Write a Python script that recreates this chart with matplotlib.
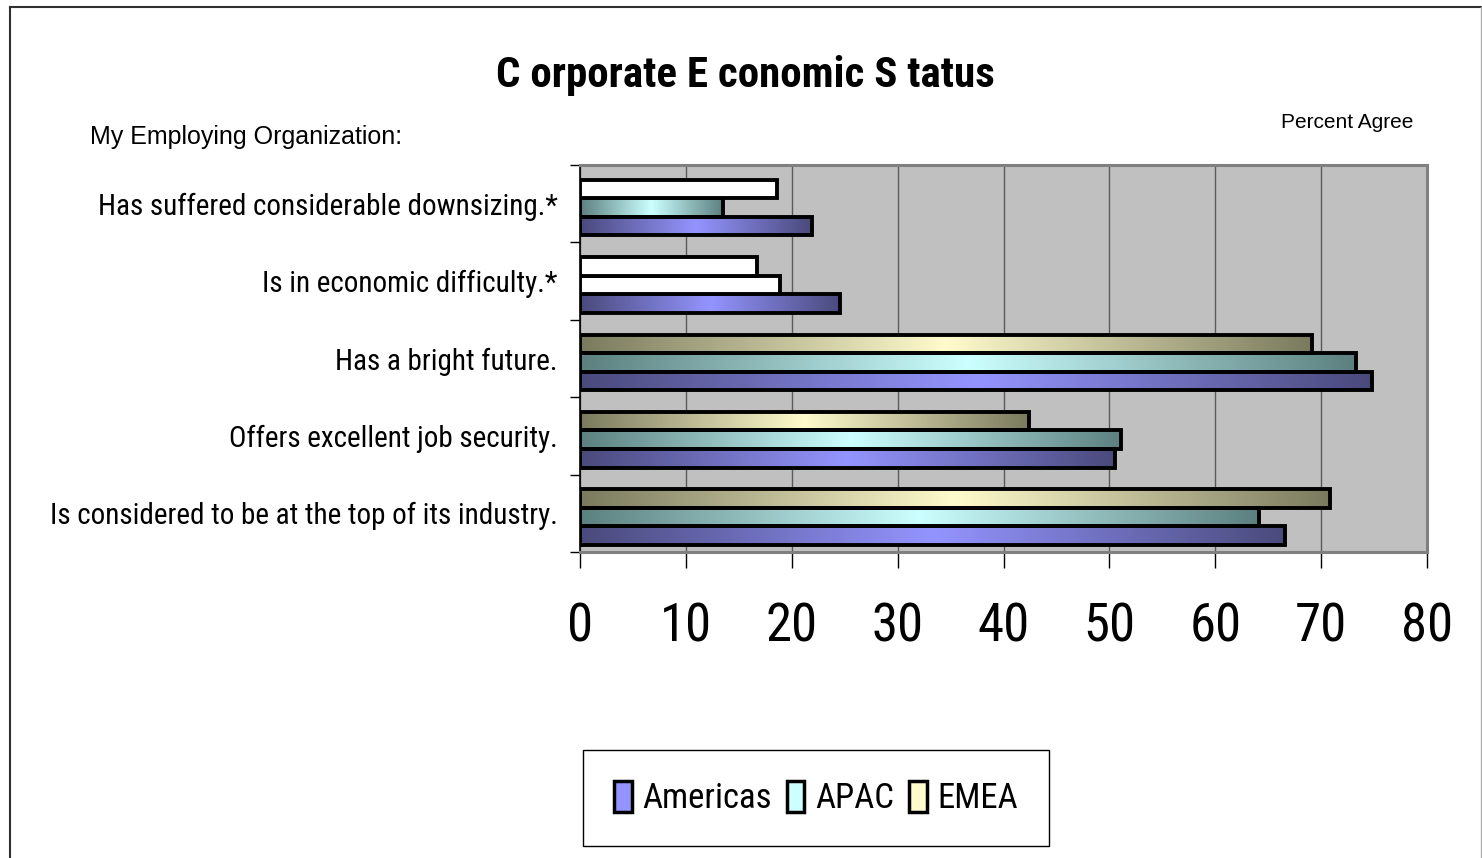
import matplotlib
matplotlib.use("Agg")
import numpy as np
import matplotlib.pyplot as plt
from matplotlib.colors import LinearSegmentedColormap
from matplotlib.patches import Rectangle
from matplotlib.lines import Line2D
from matplotlib.ticker import MultipleLocator

# survey results, percent agree
categories = [
    "Has suffered considerable downsizing.*",
    "Is in economic difficulty.*",
    "Has a bright future.",
    "Offers excellent job security.",
    "Is considered to be at the top of its industry.",
]
series_names = ["Americas", "APAC", "EMEA"]
americas = [21.9, 24.6, 74.8, 50.5, 66.6]
apac = [13.5, 18.9, 73.3, 51.1, 64.1]
emea = [18.6, 16.7, 69.1, 42.4, 70.8]
x_ticks = [0, 10, 20, 30, 40, 50, 60, 70, 80]

# (dark end, light middle) of each series gradient
shades = {
    "Americas": ("#4a4a7c", "#9494ff"),
    "APAC": ("#5c8080", "#ccffff"),
    "EMEA": ("#7a7a5e", "#fffbcc"),
}
# bars that come out plain white in the original workbook
plain_white = {("EMEA", 0), ("EMEA", 1), ("APAC", 1)}

narrow = ["Arial Narrow", "Liberation Sans Narrow", "Roboto Condensed",
          "IBM Plex Sans Condensed", "Liberation Sans"]
regular = ["Liberation Sans", "DejaVu Sans"]

W, H = 1482, 858
fig = plt.figure(figsize=(W / 100, H / 100), dpi=100)
fig.patch.set_facecolor("white")

ax = fig.add_axes([580 / W, 1 - 552 / H, (1427 - 580) / W, (552 - 165) / H])
ax.set_facecolor("#c0c0c0")

n = len(categories)
ypos = np.arange(n)[::-1]
bar_h = 0.24
offsets = {"Americas": -bar_h - 0.05, "APAC": -0.05, "EMEA": bar_h - 0.05}
grad = np.linspace(0, 1, 256).reshape(1, -1)

for name, vals in zip(series_names, [americas, apac, emea]):
    dark, light = shades[name]
    cmap = LinearSegmentedColormap.from_list(name, [dark, light, dark])
    face = ["white" if (name, i) in plain_white else "none" for i in range(n)]
    bars = ax.barh(ypos + offsets[name], vals, height=bar_h, color=face,
                   edgecolor="black", linewidth=2.8, zorder=3)
    for i, patch in enumerate(bars.patches):
        if (name, i) in plain_white:
            continue
        x0, y0 = patch.get_x(), patch.get_y()
        im = ax.imshow(grad, cmap=cmap, aspect="auto", zorder=2.5,
                       extent=[x0, x0 + patch.get_width(), y0, y0 + patch.get_height()])
        im.set_clip_path(patch)

ax.set_aspect("auto")
ax.set_xlim(0, 80)
ax.set_ylim(-0.5, n - 0.5)

ax.xaxis.grid(True, color="#5a5a5a", linewidth=1, zorder=1)
ax.set_axisbelow(True)
ax.set_xticks(x_ticks)
ax.set_xticklabels([str(t) for t in x_ticks], family=narrow, fontsize=38)
ax.tick_params(axis="x", direction="out", length=11.5, width=1, color="black", pad=24)

ax.set_yticks(ypos)
ax.set_yticklabels(categories, family=narrow, fontsize=21)
ax.yaxis.set_minor_locator(MultipleLocator(1, offset=0.5))
ax.tick_params(axis="y", which="major", length=0, pad=16)
ax.tick_params(axis="y", which="minor", direction="out", length=7, width=1, color="black")

for side in ["top", "right", "bottom"]:
    ax.spines[side].set_color("#808080")
    ax.spines[side].set_linewidth(2.2)
ax.spines["left"].set_color("black")
ax.spines["left"].set_linewidth(1.2)

fig.text(745 / W, 1 - 75 / H, "C orporate E conomic S tatus", ha="center", va="center",
         family=narrow, fontsize=31, fontweight="bold")
fig.text(90 / W, 1 - 137 / H, "My Employing Organization:", ha="left", va="center",
         family=regular, fontsize=18)
fig.text(1413 / W, 1 - 123 / H, "Percent Agree", ha="right", va="center",
         family=regular, fontsize=15)

handles = [Rectangle((0, 0), 1, 1, facecolor=shades[s][1], edgecolor="black", linewidth=2.5)
           for s in series_names]
leg = fig.legend(handles, series_names, loc="center", bbox_to_anchor=(816 / W, 1 - 798 / H),
                 ncol=3, frameon=True, fancybox=False, edgecolor="black", framealpha=1,
                 prop={"family": narrow, "size": 25}, handlelength=0.5, handleheight=1.0,
                 handletextpad=0.3, columnspacing=0.45, borderpad=0.9)
leg.get_frame().set_linewidth(1)

# chart frame
fig.add_artist(Line2D([9.5 / W, 9.5 / W], [0, 1 - 7 / H], color="#303030", linewidth=1.5))
fig.add_artist(Line2D([9.5 / W, 1481 / W], [1 - 7 / H, 1 - 7 / H], color="#303030", linewidth=1.5))
fig.add_artist(Line2D([1481 / W, 1481 / W], [0, 1 - 7 / H], color="#b0b0b0", linewidth=1))

fig.savefig("out.png", dpi=100)
